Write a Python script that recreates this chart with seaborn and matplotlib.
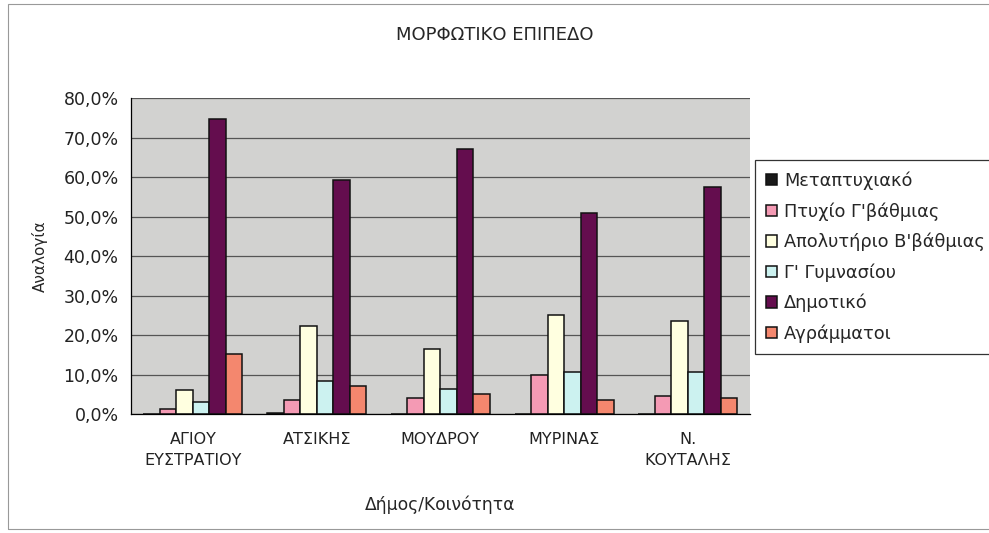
import pandas as pd
import matplotlib.pyplot as plt
import seaborn as sns
from matplotlib.patches import Rectangle
from matplotlib.ticker import FuncFormatter

# Δεδομένα (ποσοστά %)
dimoi = ['ΑΓΙΟΥ\nΕΥΣΤΡΑΤΙΟΥ', 'ΑΤΣΙΚΗΣ', 'ΜΟΥΔΡΟΥ', 'ΜΥΡΙΝΑΣ', 'Ν.\nΚΟΥΤΑΛΗΣ']
epipeda = ['Μεταπτυχιακό', "Πτυχίο Γ'βάθμιας", "Απολυτήριο Β'βάθμιας",
           "Γ' Γυμνασίου", 'Δημοτικό', 'Αγράμματοι']
metaptyxiako = [0.0, 0.3, 0.0, 0.0, 0.0]
ptyxio = [1.2, 3.5, 4.2, 9.9, 4.7]
apolytirio = [6.1, 22.3, 16.6, 25.0, 23.5]
gymnasio = [3.1, 8.4, 6.3, 10.6, 10.6]
dimotiko = [74.8, 59.3, 67.2, 50.9, 57.5]
agrammatoi = [15.2, 7.2, 5.2, 3.5, 4.0]
xromata = ['#1a1a1a', '#F49AB4', '#FFFFE0', '#CCF2F0', '#640D4E', '#F4876E']

timi = [metaptyxiako, ptyxio, apolytirio, gymnasio, dimotiko, agrammatoi]
df = pd.DataFrame([(d, e, v[i]) for e, v in zip(epipeda, timi) for i, d in enumerate(dimoi)],
                  columns=['dimos', 'epipedo', 'pososto'])

sns.set_style('white')
plt.rcParams['font.family'] = ['DejaVu Sans']

fig = plt.figure(figsize=(9.89, 5.33), dpi=100)
ax = fig.add_axes([0.1325, 0.223, 0.6255, 0.593])
ax.set_facecolor('#D2D2D0')

sns.barplot(data=df, x='dimos', y='pososto', hue='epipedo', hue_order=epipeda,
            palette=xromata, width=0.8, edgecolor='#111111', linewidth=1.1,
            saturation=1, ax=ax)

ax.set_ylim(0, 80)
ax.set_yticks(range(0, 81, 10))
ax.yaxis.set_major_formatter(FuncFormatter(lambda v, p: f'{v:.1f}%'.replace('.', ',')))
ax.yaxis.grid(True, color='#555555', linewidth=0.9)
ax.set_axisbelow(True)
ax.set_xlim(-0.5, 4.5)
ax.set_xticks([-0.5, 0.5, 1.5, 2.5, 3.5, 4.5], minor=True)
ax.tick_params(axis='x', which='major', length=0, pad=13, labelsize=11.5,
               labelcolor='#222222')
ax.tick_params(axis='x', which='minor', length=5, direction='out', color='black')
ax.tick_params(axis='y', length=8, direction='inout', color='black', labelsize=12.5,
               pad=5, labelcolor='#222222')
for lbl in ax.get_xticklabels():
    lbl.set_linespacing(1.45)
for s in ['top', 'right']:
    ax.spines[s].set_visible(False)
for s in ['left', 'bottom']:
    ax.spines[s].set_color('black')
    ax.spines[s].set_linewidth(0.9)

ax.set_xlabel('Δήμος/Κοινότητα', fontsize=12.3, labelpad=20)
ax.set_ylabel('Αναλογία', fontsize=11, labelpad=11)
fig.text(0.5, 0.935, 'ΜΟΡΦΩΤΙΚΟ ΕΠΙΠΕΔΟ', ha='center', va='center', fontsize=13)

leg = ax.legend(loc='upper left', bbox_to_anchor=(0.763, 0.700),
                bbox_transform=fig.transFigure, frameon=True, fancybox=False,
                edgecolor='black', fontsize=12.8, handlelength=0.6, handleheight=0.6,
                handletextpad=0.4, labelspacing=0.68, borderpad=0.65, borderaxespad=0)
leg.get_frame().set_linewidth(0.9)

fig.patches.append(Rectangle((0.008, 0.008), 1.1, 0.985, transform=fig.transFigure,
                             fill=False, edgecolor='#999999', linewidth=0.8))

fig.savefig('out.png', dpi=100)
